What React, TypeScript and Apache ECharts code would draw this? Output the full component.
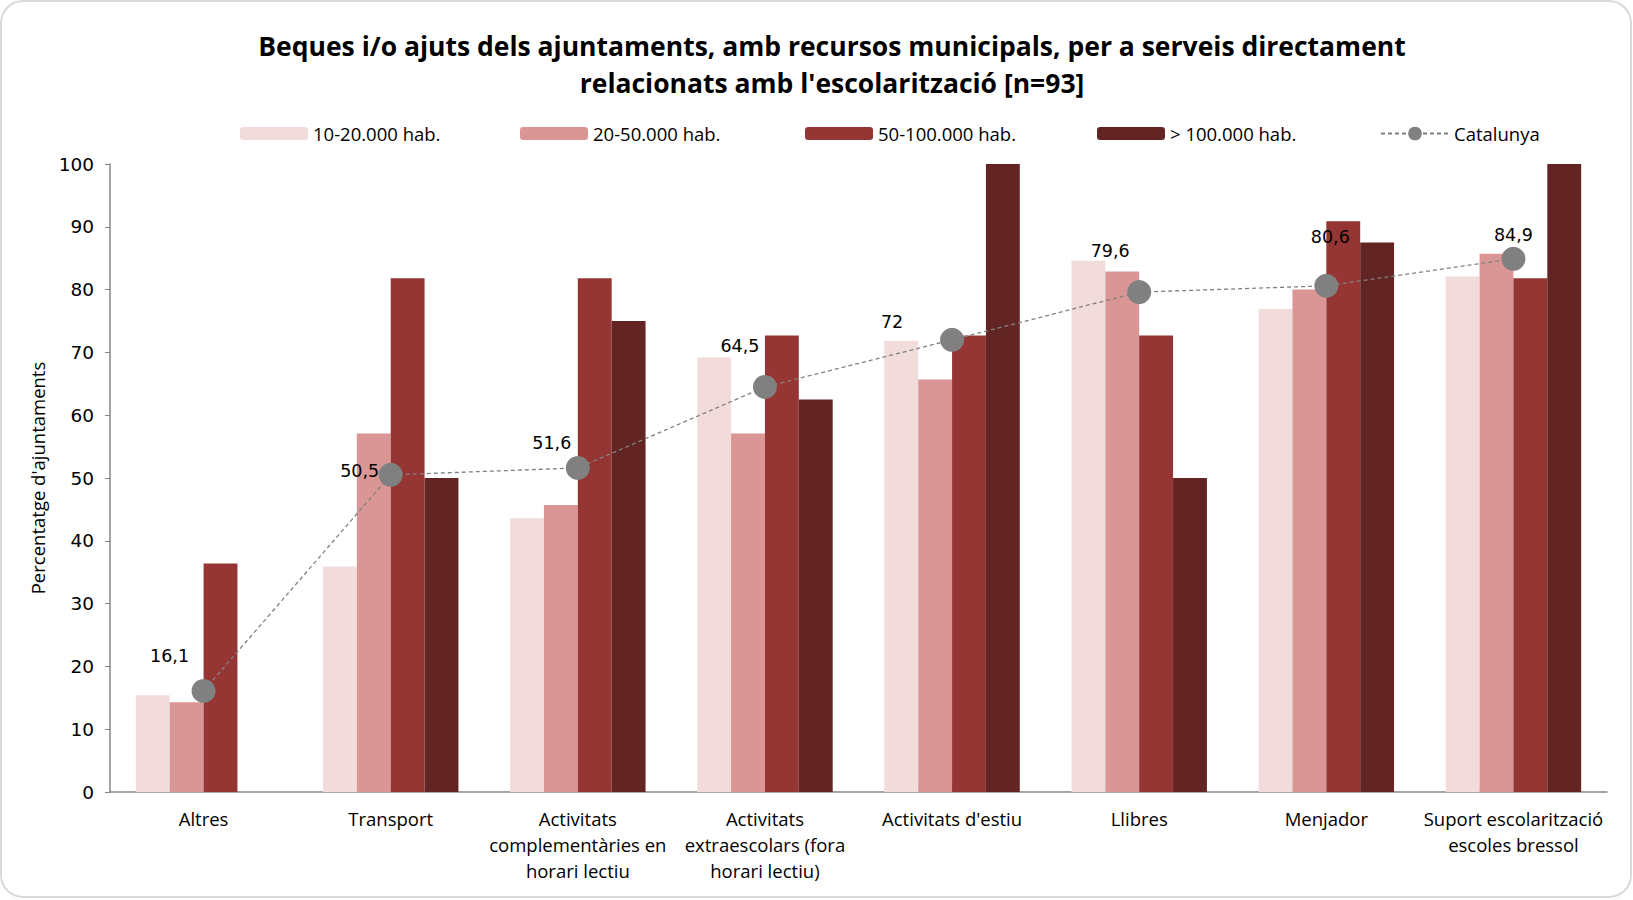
import React, { useEffect, useRef } from "react";
import * as echarts from "echarts";

const categories = [
  "Altres",
  "Transport",
  "Activitats\ncomplementàries en\nhorari lectiu",
  "Activitats\nextraescolars (fora\nhorari lectiu)",
  "Activitats d'estiu",
  "Llibres",
  "Menjador",
  "Suport escolarització\nescoles bressol",
];

const seriesNames = ["10-20.000 hab.", "20-50.000 hab.", "50-100.000 hab.", "> 100.000 hab."];
const g10_20 = [15.4, 35.9, 43.6, 69.2, 71.8, 84.6, 76.9, 82.1];
const g20_50 = [14.3, 57.1, 45.7, 57.1, 65.7, 82.9, 80.0, 85.7];
const g50_100 = [36.4, 81.8, 81.8, 72.7, 72.7, 72.7, 90.9, 81.8];
const g100plus = [0, 50, 75, 62.5, 100, 50, 87.5, 100];
const catalunyaName = "Catalunya";
const catalunya = [16.1, 50.5, 51.6, 64.5, 72, 79.6, 80.6, 84.9];

const yTicks = { min: 0, max: 100, interval: 10 };

const barColors = ["#F2DCDB", "#DA9694", "#963634", "#632523"];
const labelOffsets = [
  [-34, -35],
  [-31, -4],
  [-26, -25],
  [-25, -41],
  [-60, -18],
  [-29, -41],
  [4, -49],
  [0, -24],
];
const legendLefts = [235, 515, 800, 1092, 1375];

export default function App() {
  const ref = useRef<HTMLDivElement>(null);
  useEffect(() => {
    if (!ref.current) return;
    const chart = echarts.init(ref.current, undefined, { renderer: "svg" });
    const barData = [g10_20, g20_50, g50_100, g100plus];
    const textFont = "'Open Sans', sans-serif";
    const numFont = "'DejaVu Sans', sans-serif";
    const allNames = [...seriesNames, catalunyaName];
    chart.setOption({
      animation: false,
      backgroundColor: "#ffffff",
      title: {
        text: "Beques i/o ajuts dels ajuntaments, amb recursos municipals, per a serveis directament\nrelacionats amb l'escolarització [n=93]",
        left: 827,
        top: 22,
        textAlign: "center",
        textStyle: {
          fontFamily: textFont,
          fontWeight: "bold",
          fontSize: 26.5,
          lineHeight: 37,
          color: "#000000",
        },
      },
      legend: allNames.map((n, i) => ({
        data: [n],
        left: legendLefts[i],
        top: 119,
        itemWidth: 68,
        itemHeight: i === 4 ? 17 : 13,
        itemGap: 0,
        textStyle: { fontFamily: textFont, fontSize: 18.5, color: "#000" },
      })),
      graphic: [
        {
          type: "rect",
          shape: { x: 1, y: 1, width: 1630, height: 896, r: 22 },
          style: { fill: "none", stroke: "#D9D9D9", lineWidth: 2 },
          silent: true,
        },
      ],
      grid: { left: 110, right: 26, top: 164, bottom: 108 },
      xAxis: {
        type: "category",
        data: categories,
        axisLine: { lineStyle: { color: "#868686", width: 1.5 } },
        axisTick: { show: false },
        axisLabel: {
          fontFamily: textFont,
          fontSize: 18.5,
          lineHeight: 26,
          color: "#000",
          margin: 13,
          interval: 0,
        },
      },
      yAxis: {
        type: "value",
        min: yTicks.min,
        max: yTicks.max,
        interval: yTicks.interval,
        name: "Percentatge d'ajuntaments",
        nameLocation: "middle",
        nameGap: 63,
        nameRotate: 90,
        nameTextStyle: { fontFamily: textFont, fontSize: 18.5, color: "#000" },
        axisLine: { show: true, lineStyle: { color: "#868686", width: 1.5 } },
        axisTick: { show: true, length: 5, lineStyle: { color: "#868686" } },
        splitLine: { show: false },
        axisLabel: { fontFamily: numFont, fontSize: 18.5, color: "#000", margin: 16 },
      },
      series: [
        ...seriesNames.map((n, i) => ({
          name: n,
          type: "bar",
          data: barData[i],
          barGap: "0%",
          barCategoryGap: "27.6%",
          itemStyle: { color: barColors[i] },
        })),
        {
          name: catalunyaName,
          type: "line",
          data: catalunya.map((v, i) => ({
            value: v,
            label: { offset: labelOffsets[i] },
          })),
          z: 5,
          symbol: "circle",
          symbolSize: 24,
          itemStyle: { color: "#808080" },
          lineStyle: { color: "#808080", width: 1.3, type: [4, 3] },
          label: {
            show: true,
            position: "inside",
            fontFamily: numFont,
            fontSize: 17.5,
            color: "#000",
            formatter: (p: any) => String(p.value).replace(".", ","),
          },
        },
      ],
    });
    return () => chart.dispose();
  }, []);
  return (
    <div
      ref={ref}
      style={{ position: "absolute", left: 0, top: 0, width: 1633, height: 900 }}
    />
  );
}
